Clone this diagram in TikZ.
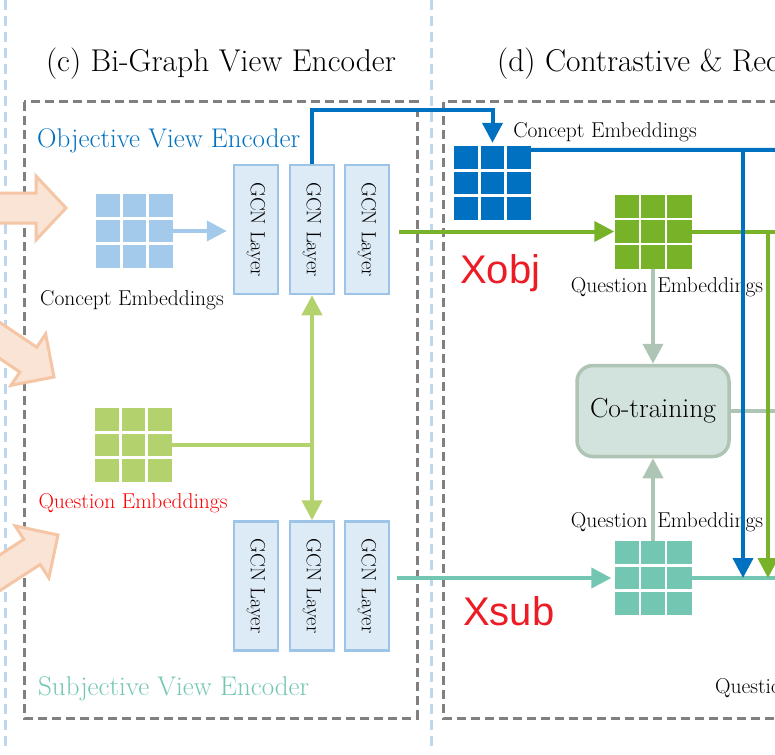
\documentclass[tikz,border=0pt]{standalone}
\usepackage{fontspec}
\newfontfamily\fXsans{Liberation Sans}
\usetikzlibrary{arrows.meta,calc}
\definecolor{objblue}{RGB}{0,112,192}
\definecolor{lblue}{RGB}{163,202,235}
\definecolor{gcnfill}{RGB}{221,235,247}
\definecolor{gcnline}{RGB}{157,195,230}
\definecolor{dgreen}{RGB}{120,178,40}
\definecolor{lgreen}{RGB}{179,210,110}
\definecolor{subteal}{RGB}{114,198,178}
\definecolor{cogray}{RGB}{174,196,180}
\definecolor{cofill}{RGB}{210,226,220}
\definecolor{dashgray}{RGB}{128,128,128}
\definecolor{sepblue}{RGB}{189,215,238}
\definecolor{xred}{RGB}{237,28,36}
\definecolor{orfill}{RGB}{250,228,213}
\definecolor{orline}{RGB}{245,198,165}
\newcommand{\fTitle}{\fontsize{31.5}{34}\selectfont}
\newcommand{\fEnc}{\fontsize{27}{30}\selectfont}
\newcommand{\fLab}{\fontsize{21.5}{24}\selectfont}
\newcommand{\fGcn}{\fontsize{20.5}{22}\selectfont}
\newcommand{\fCo}{\fontsize{27.5}{30}\selectfont}
\newcommand{\fX}{\fXsans\fontsize{40}{44}\selectfont}
\newcommand{\embgrid}[4]{%
  \node[gridbox, fill=#4] (#1) at (#2,#3) {};
  \foreach \f in {1,2} {
    \draw[white, line width=2.5pt] ($(#1.north west)!\f/3!(#1.north east)$) -- ($(#1.south west)!\f/3!(#1.south east)$);
    \draw[white, line width=2.5pt] ($(#1.north west)!\f/3!(#1.south west)$) -- ($(#1.north east)!\f/3!(#1.south east)$);
  }
}
\tikzset{
  gridbox/.style={draw=none, minimum width=77pt, minimum height=74pt, inner sep=0pt},
  gcnbox/.style={draw=gcnline, fill=gcnfill, line width=2.5pt, minimum width=44pt, minimum height=129pt, inner sep=0pt, font=\fGcn},
  cotrain/.style={draw=cogray, fill=cofill, line width=3.5pt, rounded corners=16pt, minimum width=152pt, minimum height=91pt, font=\fCo},
  txt/.style={inner sep=0pt},
  conn/.style={line width=4pt},
  tip/.tip={Triangle[width=20pt,length=20pt]},
  graybox/.style={draw=dashgray, line width=3pt, dash pattern=on 9pt off 5pt},
  sepline/.style={draw=sepblue, line width=3pt, dash pattern=on 10pt off 6pt},
  orarrow/.style={draw=orline, fill=orfill, line width=3pt, line join=miter}
}
\begin{document}
\begin{tikzpicture}[x=1pt, y=-1pt]
\useasboundingbox (0,0) rectangle (775,754);
\clip (0,0) rectangle (775,754);
% separators
\draw[sepline] (5,0) -- (5,746);
\draw[sepline] (431,0) -- (431,746);
% dashed panels
\draw[graybox] (24,102) rectangle (417,718);
\draw[graybox] (443,102) rectangle (800,718);
% orange input arrows
\begin{scope}[shift={(66,208)}]
  \draw[orarrow] (0,0) -- (-30,-32) -- (-30,-15) -- (-130,-15) -- (-130,15) -- (-30,15) -- (-30,32) -- cycle;
\end{scope}
\begin{scope}[shift={(54,377)}, rotate=-34]
  \draw[orarrow] (0,0) -- (-31,-31) -- (-31,-15) -- (-130,-15) -- (-130,15) -- (-31,15) -- (-31,31) -- cycle;
\end{scope}
\begin{scope}[shift={(58,535)}, rotate=33]
  \draw[orarrow] (0,0) -- (-31,-31) -- (-31,-15) -- (-130,-15) -- (-130,15) -- (-31,15) -- (-31,31) -- cycle;
\end{scope}
% titles
\node[txt, anchor=base, font=\fTitle] (tc) at (221,72) {(c) Bi-Graph View Encoder};
\node[txt, anchor=base west, font=\fTitle] (td) at (497,72) {(d) Contrastive \& Rec};
\node[txt, anchor=base west, font=\fEnc, text=objblue] (ove) at (37,148) {Objective View Encoder};
\node[txt, anchor=base west, font=\fEnc, text=subteal] (sve) at (38,695) {Subjective View Encoder};
% embeddings grids
\embgrid{cg1}{134.5}{231}{lblue}
\embgrid{qg1}{133.5}{445}{lgreen}
\embgrid{cg2}{492.5}{183}{objblue}
\embgrid{qg2}{653}{231.5}{dgreen}
\embgrid{tg}{653}{578}{subteal}
% labels
\node[txt, anchor=base, font=\fLab] (cl1) at (132,305) {Concept Embeddings};
\node[txt, anchor=base, font=\fLab, text=red] (ql1) at (133,508) {Question Embeddings};
\node[txt, anchor=base, font=\fLab] (cl2) at (605,138) {Concept Embeddings};
\node[txt, anchor=base, font=\fLab] (ql2) at (667,292) {Question\hspace{0.15em} Embeddings};
\node[txt, anchor=base, font=\fLab] (ql3) at (667,527) {Question\hspace{0.15em} Embeddings};
\node[txt, anchor=base west, font=\fLab] (ql4) at (715,693) {Questio};
\node[txt, anchor=base west, font=\fX, text=xred] (xo) at (460,283) {Xobj};
\node[txt, anchor=base west, font=\fX, text=xred] (xs) at (463,625) {Xsub};
% GCN layers
\node[gcnbox] (t1) at (256,229.5) {\rotatebox{-90}{GCN Layer}};
\node[gcnbox] (t2) at (312,229.5) {\rotatebox{-90}{GCN Layer}};
\node[gcnbox] (t3) at (367,229.5) {\rotatebox{-90}{GCN Layer}};
\node[gcnbox] (b1) at (256,586) {\rotatebox{-90}{GCN Layer}};
\node[gcnbox] (b2) at (312,586) {\rotatebox{-90}{GCN Layer}};
\node[gcnbox] (b3) at (367,586) {\rotatebox{-90}{GCN Layer}};
% co-training
\node[cotrain] (co) at (653,411) {Co-training};
% edge coordinates
\coordinate (eB) at (800,150);
\coordinate (eG) at (800,231.5);
\coordinate (eC) at (800,411);
\coordinate (eT) at (800,578);
\coordinate (bvT) at (743,150);
\coordinate (bvB) at (743,578);
\coordinate (gvT) at (768,231.5);
\coordinate (gvB) at (768,578);
% connectors left panel
\draw[conn, lblue, -{tip}, shorten >=6pt] (cg1.east) -- (cg1.east -| t1.west);
\draw[conn, lgreen] (qg1.east) -- (qg1.east -| t2.south);
\draw[conn, lgreen, {tip}-{tip}] (t2.south) -- (b2.north);
\draw[conn, objblue, -{tip}, shorten >=3pt] (t2.north) -- ++(0,-54) -| (cg2.north);
% connectors right panel
\draw[conn, objblue] ($(cg2.north east)+(0,4)$) -- (eB);
\draw[conn, dgreen, -{tip}, shorten <=9pt] (t3.east |- qg2.west) -- (qg2.west);
\draw[conn, dgreen] (qg2.east) -- (eG);
\draw[conn, subteal, -{tip}, shorten <=7pt, shorten >=3pt] (b3.east |- tg.west) -- (tg.west);
\draw[conn, subteal] (tg.east) -- (eT);
\draw[conn, cogray, -{tip}] (qg2.south) -- (co.north);
\draw[conn, cogray, -{tip}] (tg.north) -- (co.south);
\draw[conn, cogray] (co.east) -- (eC);
\draw[conn, objblue, -{tip}] (bvT) -- (bvB);
\draw[conn, dgreen, -{tip}] (gvT) -- (gvB);
\end{tikzpicture}
\end{document}
